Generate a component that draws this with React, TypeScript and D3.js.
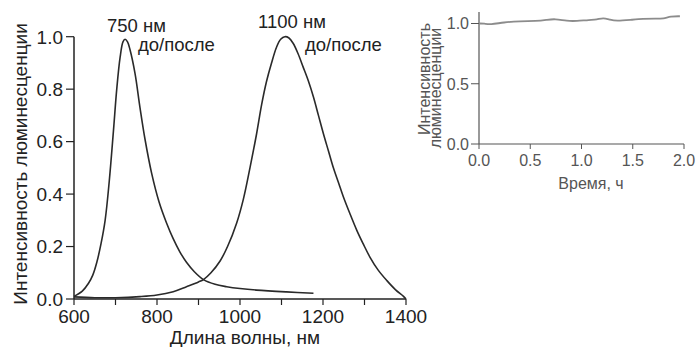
import React from "react";
import * as d3 from "d3";

// Main chart: emission spectra (wavelength nm, intensity)
const wl750 = [600, 620, 635, 645, 655, 665, 675, 685, 695, 703, 711, 718, 723, 729, 735, 747, 759, 771, 787, 805, 823, 839, 855, 871, 890, 912, 940, 968, 1000, 1040, 1112, 1177];
const int750 = [0.01, 0.03, 0.06, 0.09, 0.14, 0.21, 0.30, 0.45, 0.64, 0.80, 0.92, 0.98, 0.99, 0.98, 0.95, 0.86, 0.73, 0.61, 0.48, 0.37, 0.29, 0.23, 0.18, 0.14, 0.104, 0.074, 0.056, 0.047, 0.04, 0.034, 0.027, 0.022];

const wl1100 = [600, 650, 700, 759, 800, 839, 871, 900, 912, 930, 952, 970, 992, 1008, 1024, 1040, 1052, 1064, 1076, 1088, 1098, 1108, 1118, 1128, 1140, 1152, 1165, 1177, 1189, 1201, 1213, 1225, 1237, 1249, 1265, 1282, 1297, 1313, 1333, 1354, 1375, 1394, 1400];
const int1100 = [0.008, 0.005, 0.005, 0.009, 0.015, 0.028, 0.047, 0.065, 0.074, 0.1, 0.145, 0.2, 0.29, 0.38, 0.50, 0.63, 0.74, 0.83, 0.90, 0.96, 0.99, 1.0, 0.995, 0.975, 0.935, 0.885, 0.83, 0.77, 0.70, 0.63, 0.565, 0.50, 0.445, 0.39, 0.325, 0.26, 0.21, 0.16, 0.11, 0.07, 0.035, 0.01, 0.0];

const xTicksMain = [600, 700, 800, 900, 1000, 1100, 1200, 1300, 1400];
const xLabelsMain = [600, 800, 1000, 1200, 1400];
const yTicksMain = [0, 0.2, 0.4, 0.6, 0.8, 1.0];

// Inset: stability over time
const timeH = [0, 0.05, 0.11, 0.24, 0.40, 0.56, 0.66, 0.74, 0.86, 0.95, 1.08, 1.15, 1.21, 1.28, 1.34, 1.48, 1.60, 1.73, 1.80, 1.87, 1.96];
const relInt = [1.0, 1.0, 0.99, 1.01, 1.02, 1.02, 1.03, 1.04, 1.02, 1.02, 1.03, 1.03, 1.05, 1.03, 1.02, 1.03, 1.04, 1.04, 1.04, 1.06, 1.06];
const xTicksInset = [0, 0.5, 1.0, 1.5, 2.0];
const yTicksInset = [0, 0.5, 1.0];

const FONT = "'Liberation Sans', Arial, sans-serif";

export default function App() {
  const x = d3.scaleLinear().domain([600, 1400]).range([74, 406]);
  const y = d3.scaleLinear().domain([0, 1]).range([299, 36.7]);
  const line = d3
    .line<[number, number]>()
    .x((d) => x(d[0]))
    .y((d) => y(d[1]))
    .curve(d3.curveCatmullRom);
  const d750 = line(wl750.map((w, i) => [w, int750[i]] as [number, number]));
  const d1100 = line(wl1100.map((w, i) => [w, int1100[i]] as [number, number]));

  const x2 = d3.scaleLinear().domain([0, 2]).range([479, 684]);
  const y2 = d3.scaleLinear().domain([0, 1]).range([144, 23.5]);
  const line2 = d3
    .line<[number, number]>()
    .x((d) => x2(d[0]))
    .y((d) => y2(d[1]))
    .curve(d3.curveBasis);
  const dIns = line2(timeH.map((t, i) => [t, relInt[i]] as [number, number]));
  const f1 = d3.format(".1f");

  const ink = "#222";
  const inkIns = "#555";

  return (
    <svg
      width={697}
      height={347}
      style={{ position: "absolute", left: 0, top: 0, background: "#fff" }}
      fontFamily={FONT}
    >
      <rect width={697} height={347} fill="#fff" />
      {/* Main chart */}
      <g>
        <line x1={x(600)} x2={x(1400)} y1={y(0)} y2={y(0)} stroke={ink} strokeWidth={1.5} />
        <line x1={x(600)} x2={x(600)} y1={y(0)} y2={y(1)} stroke={ink} strokeWidth={1.5} />
        {yTicksMain.map((t) => (
          <g key={"ym" + t}>
            <line x1={x(600) - 8} x2={x(600)} y1={y(t)} y2={y(t)} stroke={ink} strokeWidth={1.2} />
            <text x={x(600) - 11} y={y(t)} dy="0.36em" textAnchor="end" fontSize={19} fill={ink}>
              {f1(t)}
            </text>
          </g>
        ))}
        {xTicksMain.map((t) => (
          <line key={"xm" + t} x1={x(t)} x2={x(t)} y1={y(0)} y2={y(0) + 6} stroke={ink} strokeWidth={1.2} />
        ))}
        {xLabelsMain.map((t) => (
          <text key={"xl" + t} x={x(t)} y={323} textAnchor="middle" fontSize={19} fill={ink}>
            {t}
          </text>
        ))}
        <text x={245} y={344} textAnchor="middle" fontSize={19} fill={ink}>
          Длина волны, нм
        </text>
        <text
          transform={`translate(27,164) rotate(-90)`}
          textAnchor="middle"
          fontSize={19}
          fill={ink}
        >
          Интенсивность люминесценции
        </text>
        <path d={d1100 || ""} fill="none" stroke="#2a2a2a" strokeWidth={1.6} />
        <path d={d750 || ""} fill="none" stroke="#2a2a2a" strokeWidth={1.6} />
        <text x={107} y={32} fontSize={18.5} fill={ink}>750 нм</text>
        <text x={138} y={51} fontSize={18.5} fill={ink}>до/после</text>
        <text x={258} y={28} fontSize={18.5} fill={ink}>1100 нм</text>
        <text x={305} y={51} fontSize={18.5} fill={ink}>до/после</text>
      </g>
      {/* Inset chart */}
      <g>
        <line x1={x2(0)} x2={x2(2)} y1={y2(0)} y2={y2(0)} stroke={inkIns} strokeWidth={1.2} />
        <line x1={x2(0)} x2={x2(0)} y1={y2(0)} y2={y2(1.095)} stroke={inkIns} strokeWidth={1.2} />
        {yTicksInset.map((t) => (
          <g key={"yi" + t}>
            <line x1={x2(0) - 8} x2={x2(0)} y1={y2(t)} y2={y2(t)} stroke={inkIns} strokeWidth={1} />
            <text x={x2(0) - 10} y={y2(t)} dy="0.36em" textAnchor="end" fontSize={16} fill={inkIns}>
              {f1(t)}
            </text>
          </g>
        ))}
        {xTicksInset.map((t) => (
          <g key={"xi" + t}>
            <line x1={x2(t)} x2={x2(t)} y1={y2(0)} y2={y2(0) + 5} stroke={inkIns} strokeWidth={1} />
            <text x={x2(t)} y={166} textAnchor="middle" fontSize={16} fill={inkIns}>
              {f1(t)}
            </text>
          </g>
        ))}
        <text x={591} y={189} textAnchor="middle" fontSize={16} fill={inkIns}>
          Время, ч
        </text>
        <text transform={`translate(430,79) rotate(-90)`} textAnchor="middle" fontSize={16} fill={inkIns}>
          Интенсивность
        </text>
        <text transform={`translate(441,88) rotate(-90)`} textAnchor="middle" fontSize={16} fill={inkIns}>
          люминесценции
        </text>
        <path d={dIns || ""} fill="none" stroke="#8c8c8c" strokeWidth={1.8} />
      </g>
    </svg>
  );
}
